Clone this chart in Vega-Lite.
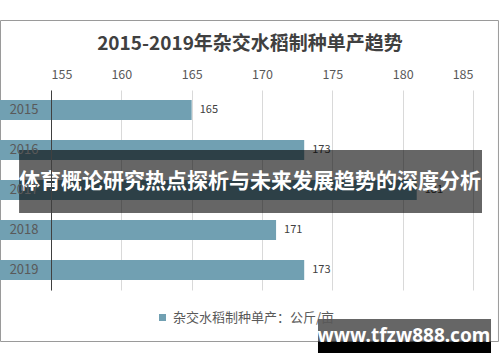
{
  "$schema": "https://vega.github.io/schema/vega-lite/v6.json",
  "autosize": {"type": "none"},
  "width": 422,
  "height": 200,
  "padding": {"left": 51, "top": 90, "right": 27, "bottom": 72},
  "background": "white",
  "config": {
    "font": "Noto Sans CJK SC",
    "view": {"stroke": null}
  },
  "title": {
    "text": "2015-2019年杂交水稻制种单产趋势",
    "fontSize": 19,
    "fontWeight": "bold",
    "color": "#404040",
    "anchor": "middle",
    "offset": -34,
    "dx": -12,
    "font": "Noto Sans CJK SC"
  },
  "data": {
    "values": [
      {"year": "2015", "v": 165, "series": "杂交水稻制种单产：公斤/亩"},
      {"year": "2016", "v": 173, "series": "杂交水稻制种单产：公斤/亩"},
      {"year": "2017", "v": 181, "series": "杂交水稻制种单产：公斤/亩"},
      {"year": "2018", "v": 171, "series": "杂交水稻制种单产：公斤/亩"},
      {"year": "2019", "v": 173, "series": "杂交水稻制种单产：公斤/亩"}
    ]
  },
  "layer": [
    {
      "data": {"values": [{}]},
      "mark": {"type": "rect", "fill": null, "stroke": "#9a9a9a", "strokeWidth": 1, "clip": false},
      "encoding": {
        "x": {"datum": 151.41, "type": "quantitative"},
        "x2": {"datum": 186.81},
        "y": {"datum": "2015", "bandPosition": -3.975},
        "y2": {"datum": "2019", "bandPosition": 4.075}
      }
    },
    {
      "mark": {"type": "bar", "fill": "#71a0b2"},
      "encoding": {
        "y": {
          "field": "year", "type": "nominal",
          "scale": {"paddingInner": 0.5, "paddingOuter": 0.25},
          "axis": {
            "title": null, "ticks": false, "labelPadding": 13, "labelFontSize": 13,
            "labelColor": "#595959", "domainColor": "#404040", "domainWidth": 1
          }
        },
        "x": {
          "field": "v", "type": "quantitative",
          "scale": {"domain": [155, 185], "zero": false, "nice": false},
          "axis": {
            "orient": "top", "title": null, "domain": false, "ticks": false,
            "values": [155, 160, 165, 170, 175, 180, 185],
            "grid": true, "gridColor": "#d9d9d9", "labelFontSize": 12.5,
            "labelColor": "#595959", "labelPadding": 9
          }
        },
        "color": {
          "field": "series", "type": "nominal",
          "scale": {"range": ["#71a0b2"]},
          "legend": {
            "title": null, "orient": "none", "legendX": 105, "legendY": 221,
            "symbolType": "square", "symbolSize": 49, "symbolStrokeWidth": 0,
            "labelFontSize": 13, "labelColor": "#595959", "labelLimit": 300,
            "direction": "horizontal"
          }
        }
      }
    },
    {
      "mark": {"type": "text", "align": "left", "dx": 8, "fontSize": 11, "color": "#404040"},
      "encoding": {
        "y": {"field": "year", "type": "nominal"},
        "x": {"field": "v", "type": "quantitative"},
        "text": {"field": "v", "type": "quantitative"}
      }
    },
    {
      "data": {"values": [{}]},
      "mark": {"type": "rect", "fill": "#000000", "opacity": 0.6, "clip": false},
      "encoding": {
        "x": {"datum": 152.73, "type": "quantitative"},
        "x2": {"datum": 185.64},
        "y": {"datum": "2016", "bandPosition": 0.5},
        "y2": {"datum": "2017", "bandPosition": 1.65}
      }
    },
    {
      "data": {"values": [{"t": "体育概论研究热点探析与未来发展趋势的深度分析"}]},
      "mark": {"type": "text", "color": "white", "fontSize": 21, "fontWeight": "bold", "align": "center", "baseline": "middle"},
      "encoding": {
        "x": {"datum": 169.15, "type": "quantitative"},
        "y": {"datum": "2017", "bandPosition": 0.075},
        "text": {"field": "t"}
      }
    },
    {
      "data": {"values": [{}]},
      "mark": {"type": "rect", "fill": "#000000", "opacity": 0.6, "clip": false},
      "encoding": {
        "x": {"datum": 173.98, "type": "quantitative"},
        "x2": {"datum": 186.28},
        "y": {"datum": "2019", "bandPosition": 2.95},
        "y2": {"datum": "2019", "bandPosition": 4.1}
      }
    },
    {
      "data": {"values": [{"t": "www.tfzw888.com"}]},
      "mark": {"type": "text", "color": "white", "fontSize": 19, "fontWeight": "bold", "align": "center", "baseline": "alphabetic", "font": "Noto Sans"},
      "encoding": {
        "x": {"datum": 180.09, "type": "quantitative"},
        "y": {"datum": "2019", "bandPosition": 4.1},
        "text": {"field": "t"}
      }
    },
    {
      "data": {"values": [{}]},
      "mark": {"type": "rect", "fill": "#000000", "clip": false},
      "encoding": {
        "x": {"datum": 173.98, "type": "quantitative"},
        "x2": {"datum": 186.28},
        "y": {"datum": "2019", "bandPosition": 4.1},
        "y2": {"datum": "2019", "bandPosition": 4.65}
      }
    }
  ]
}
